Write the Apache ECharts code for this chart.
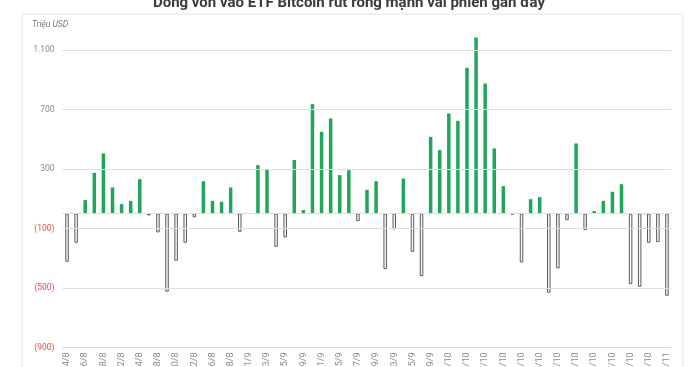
<!DOCTYPE html>
<html>
<head>
<meta charset="utf-8">
<script src="https://cdn.jsdelivr.net/npm/echarts@6/dist/echarts.min.js"></script>
<style>
html,body{margin:0;padding:0;background:#fff;}
#chart{width:698px;height:367px;}
</style>
</head>
<body>
<div id="chart"></div>
<script>
const dates = [
  '4/8','5/8','6/8','7/8','8/8','11/8','12/8','13/8','14/8','15/8',
  '18/8','19/8','20/8','21/8','22/8','25/8','26/8','27/8','28/8','29/8',
  '1/9','2/9','3/9','4/9','5/9','8/9','9/9','10/9','11/9','12/9',
  '15/9','16/9','17/9','18/9','19/9','22/9','23/9','24/9','25/9','26/9',
  '29/9','30/9','1/10','2/10','3/10','6/10','7/10','8/10','9/10','10/10',
  '13/10','14/10','15/10','16/10','17/10','20/10','21/10','22/10','23/10','24/10',
  '27/10','28/10','29/10','30/10','31/10','3/11','4/11'
];
const flows = [
  -324,-196,91,274,405,176,64,86,232,-12,
  -126,-525,-317,-196,-25,218,86,80,176,-122,
  null,326,299,-223,-160,360,24,736,550,640,
  259,292,-50,160,218,-373,-106,236,-257,-420,
  516,427,673,624,980,1184,875,438,185,-5,
  -328,97,111,-532,-368,-44,472,-111,17,86,
  147,198,-474,-492,-196,-192,-552
];
const yTicks = [-900,-500,-100,300,700,1100];
const yTickLabels = ['(900)','(500)','(100)','300','700','1.100'];
const titleText = 'Dòng vốn vào ETF Bitcoin rút ròng mạnh vài phiên gần đây';
const unitText = 'Triệu USD';

const barData = flows.map(v => {
  if (v === null) return { value: null };
  if (v >= 0) return { value: v, itemStyle: { color: '#21a55a' } };
  return { value: v, itemStyle: { color: '#f7f7f7', borderColor: '#5a5a5a', borderWidth: 1 } };
});

const chart = echarts.init(document.getElementById('chart'), null, { renderer: 'canvas' });
chart.setOption({
  animation: false,
  backgroundColor: '#fff',
  title: [
    { text: titleText, left: 'center', top: -9,
      textStyle: { fontFamily: 'Roboto', fontWeight: 'bold', fontSize: 15, color: '#3c3c3c' } },
    { text: unitText, left: 27, top: 15,
      textStyle: { fontFamily: 'Roboto', fontStyle: 'italic', fontWeight: 'normal', fontSize: 8.5, color: '#777' } }
  ],
  graphic: [
    { type: 'rect', shape: { x: 22, y: 14, width: 661, height: 380 }, silent: true, z: -1,
      style: { fill: 'none', stroke: '#e3e3e3', lineWidth: 1 } }
  ],
  grid: { left: 62.5, right: 26.5, top: 50, bottom: 19.5, containLabel: false, outerBoundsMode: 'none' },
  xAxis: {
    type: 'category',
    data: dates,
    axisLine: { onZero: false, lineStyle: { color: '#dcdcdc' } },
    axisTick: { show: false },
    axisLabel: { interval: 1, rotate: 90, margin: 5, fontFamily: 'Roboto', fontSize: 9, color: '#8a8a8a' }
  },
  yAxis: {
    type: 'value',
    min: -900,
    max: 1100,
    axisLine: { show: false },
    axisTick: { show: false },
    splitLine: { show: false },
    axisLabel: {
      customValues: yTicks,
      margin: 8,
      fontFamily: 'Roboto',
      fontSize: 8.5,
      formatter: v => yTickLabels[yTicks.indexOf(v)] ?? '',
      color: v => (v < 0 ? '#d9534f' : '#8a8a8a')
    }
  },
  series: [
    {
      type: 'line', data: [], silent: true, z: 1,
      markLine: {
        silent: true, symbol: 'none', label: { show: false },
        lineStyle: { color: '#dedede', width: 1, type: 'solid' },
        data: yTicks.concat([0]).map(v => ({ yAxis: v }))
      }
    },
    {
      type: 'bar', data: barData, barWidth: 3.5, z: 3, clip: false
    }
  ]
});
</script>
</body>
</html>
